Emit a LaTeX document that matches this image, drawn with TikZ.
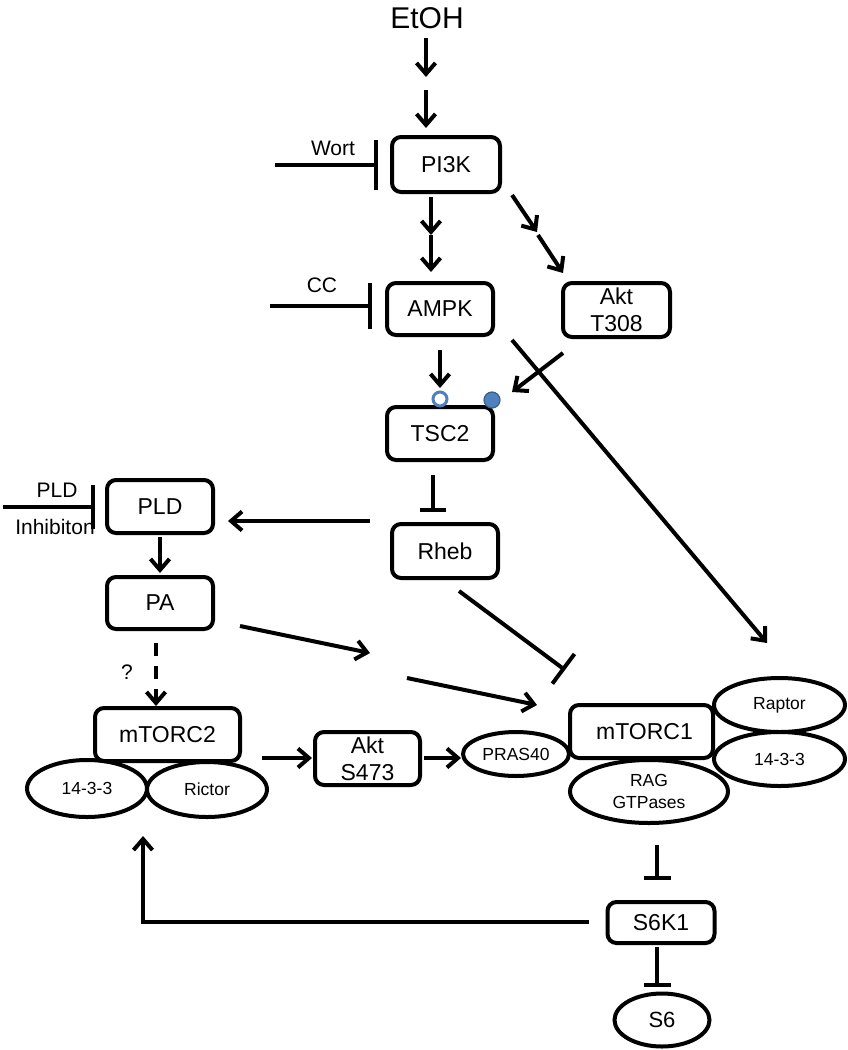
\documentclass[tikz,border=0pt]{standalone}
\usepackage{fontspec}
\setmainfont{Liberation Sans}
\usetikzlibrary{arrows.meta,shapes.geometric}
\definecolor{pblue}{HTML}{4F81BD}
\definecolor{pbluedark}{HTML}{385D8A}
\begin{document}
\begin{tikzpicture}[x=1pt,y=-1pt,
 box/.style={draw,line width=4pt,rounded corners=9pt,fill=white,inner sep=0pt,align=center,font=\fontsize{23}{27}\selectfont},
 oval/.style={draw,ellipse,line width=4pt,fill=white,inner sep=0pt,align=center,font=\fontsize{17.5}{22}\selectfont},
 lbl/.style={inner sep=0pt,font=\fontsize{21}{25}\selectfont},
 arr/.style={line width=4pt,-{Straight Barb[length=11pt,width=19pt]}},
 inh/.style={line width=4pt,-{Bar[width=#1]}},
 dasharr/.style={arr,dash pattern=on 13pt off 10pt}
 ]
\useasboundingbox (0,0) rectangle (848,1050);

% ---- nodes ----
\node[font=\fontsize{30}{34}\selectfont,inner sep=0pt] (etoh) at (427,18) {EtOH};
\node[box,minimum width=108pt,minimum height=55pt] (pi3k) at (446,164.5) {PI3K};
\node[box,minimum width=106pt,minimum height=52pt] (ampk) at (440,309) {AMPK};
\node[box,minimum width=107pt,minimum height=54pt] (akt308) at (616.5,310) {Akt\\T308};
\node[box,minimum width=106pt,minimum height=53pt] (tsc2) at (440,433.5) {TSC2};
\node[box,minimum width=106pt,minimum height=54pt] (rheb) at (445,551) {Rheb};
\node[box,minimum width=106pt,minimum height=53pt] (pld) at (160,506.5) {PLD};
\node[box,minimum width=106pt,minimum height=52pt] (pa) at (160,603) {PA};

\node[oval,minimum width=120pt,minimum height=57pt] (lft1433) at (87,788.5) {14-3-3};
\node[oval,minimum width=120pt,minimum height=55pt] (rictor) at (207,789.5) {Rictor};
\node[box,minimum width=145pt,minimum height=53pt] (mtorc2) at (167.5,734.5) {mTORC2};
\node[box,minimum width=105pt,minimum height=53pt] (akt473) at (367.5,758.5) {Akt\\S473};
\node[oval,minimum width=106pt,minimum height=44pt] (pras) at (516,754) {PRAS40};
\node[oval,minimum width=131pt,minimum height=54pt] (raptor) at (779.5,705) {Raptor};
\node[oval,minimum width=131pt,minimum height=54pt] (rgt1433) at (779.5,759) {14-3-3};
\node[oval,minimum width=158pt,minimum height=63pt] (rag) at (649,791.5) {RAG\\GTPases};
\node[box,minimum width=143pt,minimum height=53pt] (mtorc1) at (641.5,731.5) {\hspace*{6pt}mTORC1};
\node[box,minimum width=107pt,minimum height=41pt] (s6k1) at (661,922.5) {S6K1};
\node[oval,minimum width=95pt,minimum height=53pt,font=\fontsize{22}{26}\selectfont] (s6) at (662,1020) {S6};

\node[circle,draw=pblue,line width=3pt,fill=white,minimum size=14pt,inner sep=0pt] (p1) at (440,399) {};
\node[circle,draw=pbluedark,line width=1.2pt,fill=pblue,minimum size=16pt,inner sep=0pt] (p2) at (492,400) {};

\node[lbl] (wort) at (333,148) {Wort};
\node[lbl] (cc) at (322,285) {CC};
\node[lbl] (pldlbl) at (57,490) {PLD};
\node[lbl] (pldinh) at (55,527) {Inhibiton};
\node[lbl] (q) at (127,672) {?};

% ---- free ends ----
\coordinate (e1a) at (426,38);  \coordinate (e1b) at (426,77);
\coordinate (e2a) at (426,90);  \coordinate (e2b) at (426,128);
\coordinate (wortS) at (275,165); \coordinate (wortE) at (378,165);
\coordinate (pa1) at (431,197); \coordinate (pa2) at (431,235); \coordinate (pa3) at (431,272);
\coordinate (pk1) at (512,195); \coordinate (pk2) at (537,232); \coordinate (pk3) at (538,235); \coordinate (pk4) at (563,273);
\coordinate (ccS) at (270,306); \coordinate (ccE) at (372,306);
\coordinate (at1) at (440,350); \coordinate (at2) at (440,388);
\coordinate (kt1) at (563,353); \coordinate (kt2) at (512,392);
\coordinate (am1) at (512,340); \coordinate (am2) at (767,643);
\coordinate (tr1) at (433,475); \coordinate (tr2) at (433,512);
\coordinate (rp1) at (370,521); \coordinate (rp2) at (228,521);
\coordinate (pi1) at (3,507); \coordinate (pi2) at (95,507);
\coordinate (pp1) at (160,537); \coordinate (pp2) at (160,573);
\coordinate (pm1) at (240,626); \coordinate (pm2) at (370,653);
\coordinate (pm3) at (407,678); \coordinate (pm4) at (537,705);
\coordinate (rm1) at (459,591); \coordinate (rm2) at (565,670);
\coordinate (d1) at (156,643); \coordinate (d2) at (156,706);
\coordinate (c21) at (262,758); \coordinate (c22) at (312,758);
\coordinate (as1) at (424,758); \coordinate (as2) at (461,758);
\coordinate (ms1) at (657,845); \coordinate (ms2) at (657,880);
\coordinate (ss1) at (657,947); \coordinate (ss2) at (657,987);
\coordinate (fb1) at (589,922); \coordinate (fbc) at (143,922); \coordinate (fb2) at (143,836);

% ---- connectors ----
\draw[arr] (e1a) -- (e1b);
\draw[arr] (e2a) -- (e2b);
\draw[inh=50pt] (wortS) -- (wortE);
\draw[arr] (pa1) -- (pa2);
\draw[arr] (pa2) -- (pa3);
\draw[arr] (pk1) -- (pk2);
\draw[arr] (pk3) -- (pk4);
\draw[inh=46pt] (ccS) -- (ccE);
\draw[arr] (at1) -- (at2);
\draw[arr] (kt1) -- (kt2);
\draw[arr] (am1) -- (am2);
\draw[inh=26pt] (tr1) -- (tr2);
\draw[arr] (rp1) -- (rp2);
\draw[inh=44pt] (pi1) -- (pi2);
\draw[arr] (pp1) -- (pp2);
\draw[arr] (pm1) -- (pm2);
\draw[arr] (pm3) -- (pm4);
\draw[inh=37pt] (rm1) -- (rm2);
\draw[dasharr] (d1) -- (d2);
\draw[arr] (c21) -- (c22);
\draw[arr] (as1) -- (as2);
\draw[inh=27pt] (ms1) -- (ms2);
\draw[inh=27pt] (ss1) -- (ss2);
\draw[arr] (fb1) -- (fbc) -- (fb2);
\end{tikzpicture}
\end{document}
